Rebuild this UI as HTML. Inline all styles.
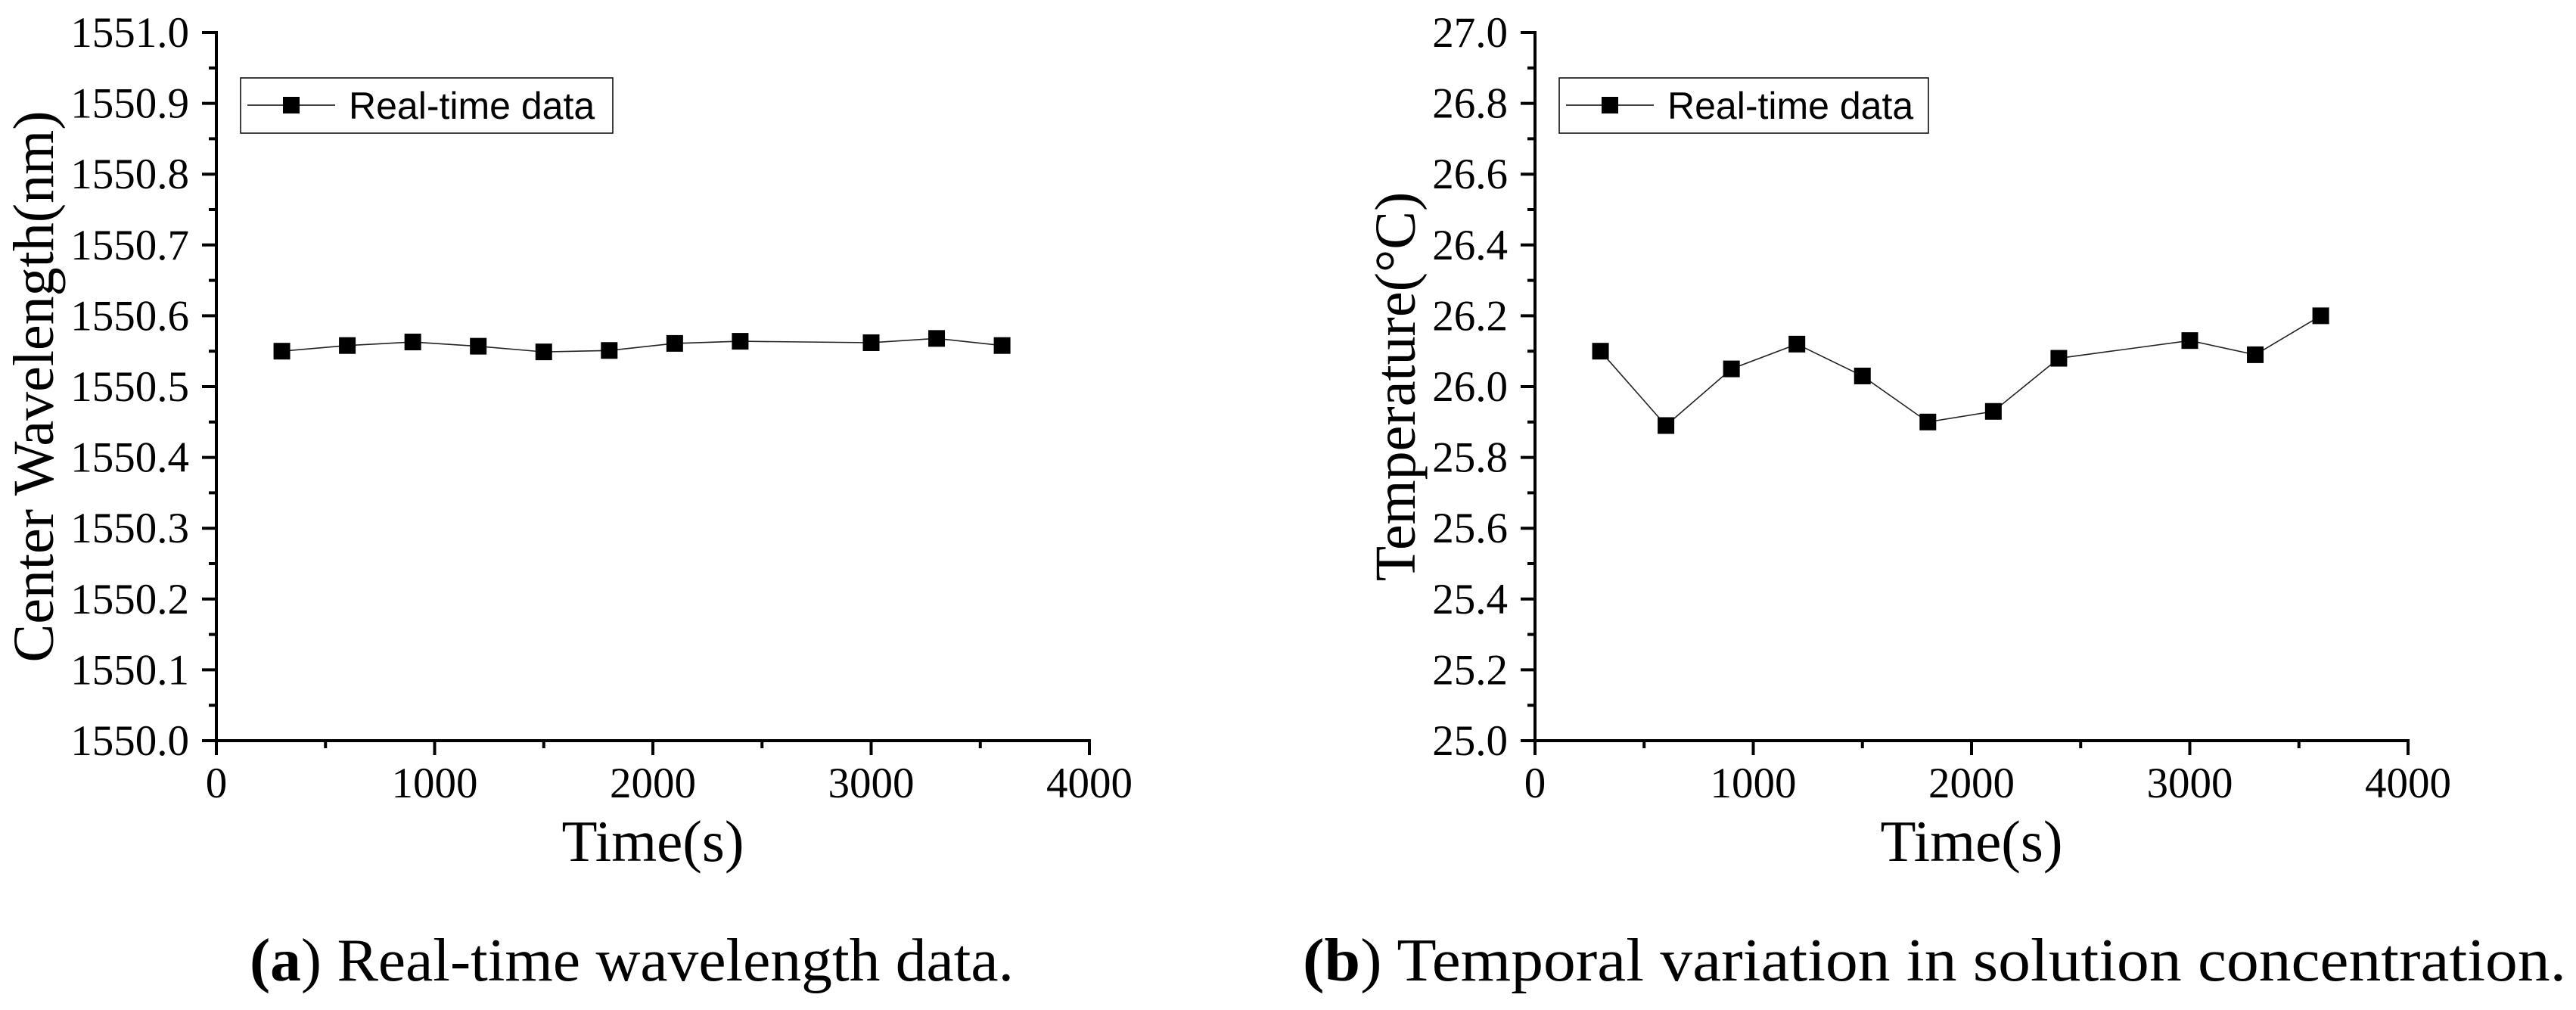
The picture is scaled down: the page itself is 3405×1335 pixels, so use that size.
<!DOCTYPE html>
<html><head><meta charset="utf-8">
<style>
html,body{margin:0;padding:0;background:#fff;}
svg{display:block;}
</style></head>
<body>
<svg id="fig" width="3405" height="1335" viewBox="0 0 3405 1335" xmlns="http://www.w3.org/2000/svg" font-family="'Liberation Serif', serif">
<g id="chartA"></g>
<g id="chartB"></g>
<text x="330" y="1296" font-size="80" textLength="1010" lengthAdjust="spacingAndGlyphs"><tspan font-weight="bold">(a</tspan>) Real-time wavelength data.</text>
<text x="1722" y="1296" font-size="80" textLength="1670" lengthAdjust="spacingAndGlyphs"><tspan font-weight="bold">(b</tspan>) Temporal variation in solution concentration.</text>
</svg>
<script>
const times = [300, 600, 900, 1200, 1500, 1800, 2100, 2400, 3000, 3300, 3600];
const wavelengths = [1550.55, 1550.558, 1550.563, 1550.557, 1550.549, 1550.551, 1550.561, 1550.564, 1550.562, 1550.568, 1550.558];
const temperatures = [26.10, 25.89, 26.05, 26.12, 26.03, 25.90, 25.93, 26.08, 26.13, 26.09, 26.20];
const xTicks = [0, 1000, 2000, 3000, 4000];
const yTicksA = ["1550.0","1550.1","1550.2","1550.3","1550.4","1550.5","1550.6","1550.7","1550.8","1550.9","1551.0"];
const yTicksB = ["25.0","25.2","25.4","25.6","25.8","26.0","26.2","26.4","26.6","26.8","27.0"];

const NS = "http://www.w3.org/2000/svg";
function mk(parent, tag, attrs, text) {
  const e = document.createElementNS(NS, tag);
  for (const k in attrs) e.setAttribute(k, attrs[k]);
  if (text !== undefined) e.textContent = text;
  parent.appendChild(e);
  return e;
}

function drawChart(g, cfg) {
  const x0 = cfg.left, x1 = cfg.left + 1154, yTop = 43, yBot = 979;
  const xs = v => x0 + (v - 0) / 4000 * (x1 - x0);
  const ys = v => yBot - (v - cfg.ymin) / (cfg.ymax - cfg.ymin) * (yBot - yTop);

  const ya = mk(g, "line", {x1: x0, y1: yTop - 2, x2: x0, y2: yBot + 2, stroke: "#000", "stroke-width": 4});
  
  
  const xa = mk(g, "line", {x1: x0 - 2, y1: yBot, x2: x1 + 2, y2: yBot, stroke: "#000", "stroke-width": 4});
  
  

  const n = cfg.yLabels.length;
  for (let i = 0; i < n; i++) {
    const v = cfg.ymin + i * (cfg.ymax - cfg.ymin) / (n - 1);
    const y = ys(v);
    const t = mk(g, "line", {x1: x0 - 19, y1: y, x2: x0, y2: y, stroke: "#000", "stroke-width": 4});
    
    
    const l = mk(g, "text", {x: x0 - 36, y: y + 19, "font-size": 57, "text-anchor": "end"}, cfg.yLabels[i]);
    
    
    if (i < n - 1) {
      const ym = ys(v + (cfg.ymax - cfg.ymin) / (n - 1) / 2);
      const m = mk(g, "line", {x1: x0 - 10, y1: ym, x2: x0, y2: ym, stroke: "#000", "stroke-width": 4});
      
      
    }
  }
  xTicks.forEach((v, i) => {
    const x = xs(v);
    const t = mk(g, "line", {x1: x, y1: yBot, x2: x, y2: yBot + 19, stroke: "#000", "stroke-width": 4});
    
    
    const l = mk(g, "text", {x: x, y: 1054, "font-size": 57, "text-anchor": "middle"}, String(v));
    
    
    if (i < xTicks.length - 1) {
      const xm = xs(v + 500);
      const m = mk(g, "line", {x1: xm, y1: yBot, x2: xm, y2: yBot + 10, stroke: "#000", "stroke-width": 4});
      
      
    }
  });
  const xt = mk(g, "text", {x: (x0 + x1) / 2, y: 1138, "font-size": 77, "text-anchor": "middle"}, "Time(s)");
  
  
  const yt = mk(g, "text", {x: 0, y: 0, "font-size": 76, "text-anchor": "middle",
    transform: `translate(${cfg.ytitleX},511) rotate(-90)`}, cfg.ytitle);
  
  

  const pts = times.map((t, i) => xs(t) + "," + ys(cfg.values[i])).join(" ");
  const pl = mk(g, "polyline", {points: pts, fill: "none", stroke: "#222", "stroke-width": 1.6});
  
  
  times.forEach((t, i) => {
    const r = mk(g, "rect", {x: xs(t) - 11, y: ys(cfg.values[i]) - 11, width: 22, height: 22, fill: "#000"});
    
    
  });

  const lg = mk(g, "g", {});
  
  
  const lx = x0 + 32;
  mk(lg, "rect", {x: lx, y: 103, width: cfg.legendW, height: 73, fill: "#fff", stroke: "#000", "stroke-width": 1.5});
  mk(lg, "line", {x1: lx + 9, y1: 139, x2: lx + 125, y2: 139, stroke: "#000", "stroke-width": 1.6});
  mk(lg, "rect", {x: lx + 56, y: 128, width: 22, height: 22, fill: "#000"});
  const lt = mk(lg, "text", {x: lx + 143, y: 157, "font-size": 50, "font-family": "'Liberation Sans', sans-serif"}, "Real-time data");
  
  
}

drawChart(document.getElementById("chartA"), {
  left: 286, ymin: 1550.0, ymax: 1551.0, yLabels: yTicksA, values: wavelengths,
  ytitle: "Center Wavelength(nm)", ytitleX: 70, legendW: 492
});
drawChart(document.getElementById("chartB"), {
  left: 2029, ymin: 25.0, ymax: 27.0, yLabels: yTicksB, values: temperatures,
  ytitle: "Temperature(°C)", ytitleX: 1870, legendW: 488
});
</script>
</body></html>
